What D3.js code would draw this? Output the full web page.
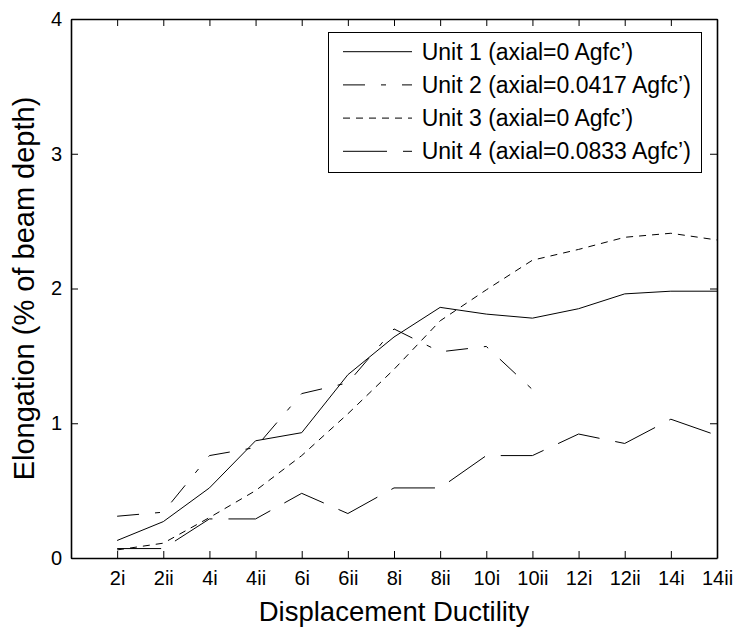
<!DOCTYPE html>
<html>
<head>
<meta charset="utf-8">
<script src="https://cdn.jsdelivr.net/npm/d3@7/dist/d3.min.js"></script>
<style>
  html, body { margin: 0; padding: 0; background: #fff; }
  svg { display: block; font-family: "Liberation Sans", Arial, Helvetica, sans-serif; }
</style>
</head>
<body>
<svg id="chart" width="737" height="630"></svg>
<script>
// Displacement ductility cycles (x categories)
const categories = ["2i", "2ii", "4i", "4ii", "6i", "6ii", "8i", "8ii", "10i", "10ii", "12i", "12ii", "14i", "14ii"];

// Beam elongation, % of beam depth
const unit1 = [0.13, 0.27, 0.52, 0.87, 0.93, 1.36, 1.64, 1.86, 1.81, 1.78, 1.85, 1.96, 1.98, 1.98];
const unit2 = [0.31, 0.34, 0.76, 0.82, 1.22, 1.30, 1.70, 1.53, 1.57, 1.25];
const unit3 = [0.06, 0.11, 0.30, 0.50, 0.76, 1.07, 1.40, 1.76, 1.99, 2.21, 2.29, 2.38, 2.41, 2.36];
const unit4 = [0.07, 0.07, 0.29, 0.29, 0.48, 0.33, 0.52, 0.52, 0.76, 0.76, 0.92, 0.85, 1.03, 0.91];

const seriesNames = [
  "Unit 1 (axial=0 Agfc\u2019)",
  "Unit 2 (axial=0.0417 Agfc\u2019)",
  "Unit 3 (axial=0 Agfc\u2019)",
  "Unit 4 (axial=0.0833 Agfc\u2019)"
];

const yTicks = [0, 1, 2, 3, 4];

const series = [
  { name: seriesNames[0], values: unit1, dash: null },
  { name: seriesNames[1], values: unit2, dash: "22,16,5,16" },
  { name: seriesNames[2], values: unit3, dash: "7,6" },
  { name: seriesNames[3], values: unit4, dash: "44,16" }
];

const svg = d3.select("#chart");
const plot = { left: 71, right: 717, top: 19, bottom: 558 };

// Categories sit at positions 1..14, the axis starts at 0
const x = d3.scaleLinear().domain([0, categories.length]).range([plot.left, plot.right]);
const y = d3.scaleLinear().domain([0, 4]).range([plot.bottom, plot.top]);
const catPos = categories.map((c, i) => i + 1);

// Axes: ticks pointing inward on all four sides
const xAxis = svg.append("g")
  .attr("transform", `translate(0,${plot.bottom})`)
  .call(d3.axisBottom(x).tickValues(catPos)
    .tickFormat(d => categories[d - 1]).tickSizeInner(-7).tickSizeOuter(0).tickPadding(13));
const xTop = svg.append("g")
  .attr("transform", `translate(0,${plot.top})`)
  .call(d3.axisTop(x).tickValues(catPos).tickFormat("").tickSizeInner(-7).tickSizeOuter(0));
const yAxis = svg.append("g")
  .attr("transform", `translate(${plot.left},0)`)
  .call(d3.axisLeft(y).tickValues(yTicks).tickFormat(d3.format("d"))
    .tickSizeInner(-7).tickSizeOuter(0).tickPadding(9));
const yRight = svg.append("g")
  .attr("transform", `translate(${plot.right},0)`)
  .call(d3.axisRight(y).tickValues(yTicks).tickFormat("").tickSizeInner(-7).tickSizeOuter(0));

[xAxis, xTop, yAxis, yRight].forEach(g => {
  g.select(".domain").attr("stroke", "#000").attr("stroke-width", 1.6);
  g.selectAll(".tick line").attr("stroke", "#000").attr("stroke-width", 1);
  g.selectAll(".tick text").attr("font-size", 20).attr("fill", "#000")
    .attr("font-family", "'Liberation Sans', Arial, sans-serif");
});

// Data lines
const line = d3.line()
  .x((d, i) => x(catPos[i]))
  .y(d => y(d));

svg.append("g").selectAll("path.series")
  .data(series)
  .join("path")
  .attr("class", "series")
  .attr("d", s => line(s.values))
  .attr("fill", "none")
  .attr("stroke", "#000")
  .attr("stroke-width", 1)
  .attr("stroke-dasharray", s => s.dash);

// Axis titles
svg.append("text")
  .attr("x", (plot.left + plot.right) / 2)
  .attr("y", 621)
  .attr("text-anchor", "middle")
  .attr("font-size", 27.5)
  .text("Displacement Ductility");

svg.append("text")
  .attr("transform", `translate(33.5,${(plot.top + plot.bottom) / 2}) rotate(-90)`)
  .attr("text-anchor", "middle")
  .attr("font-size", 29)
  .text("Elongation (% of beam depth)");

// Legend
const legend = svg.append("g");
legend.append("rect")
  .attr("x", 328.5).attr("y", 32.5)
  .attr("width", 373).attr("height", 140)
  .attr("fill", "#fff").attr("stroke", "#000").attr("stroke-width", 1);

const rowY = i => 51.7 + i * 33.2;
const rows = legend.selectAll("g.row").data(series).join("g").attr("class", "row");
rows.append("line")
  .attr("x1", 343).attr("x2", 412)
  .attr("y1", (d, i) => rowY(i)).attr("y2", (d, i) => rowY(i))
  .attr("stroke", "#000").attr("stroke-width", 1)
  .attr("stroke-dasharray", d => d.dash);
rows.append("text")
  .attr("x", 421.7)
  .attr("y", (d, i) => rowY(i))
  .attr("dy", "0.35em")
  .attr("font-size", 23)
  .text(d => d.name);
</script>
</body>
</html>
